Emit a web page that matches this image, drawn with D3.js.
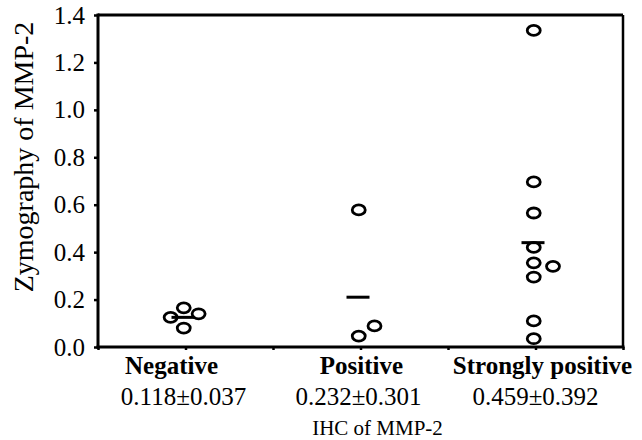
<!DOCTYPE html>
<html>
<head>
<meta charset="utf-8">
<script src="https://cdn.jsdelivr.net/npm/d3@7"></script>
<style>
  body { margin: 0; background: #fff; }
  text { font-family: "Liberation Serif", "Times New Roman", serif; fill: #000; }
</style>
</head>
<body>
<svg></svg>
<script>
let categories = ['Negative', 'Positive', 'Strongly positive']
let categoryPos = [1, 3, 5]
let statLabels = ['0.118\u00b10.037', '0.232\u00b10.301', '0.459\u00b10.392']

// points per group: value and small sideways shift (in category units)
let negativeValues = [0.165, 0.14, 0.125, 0.08]
let negativeShift = [-0.02, 0.15, -0.17, -0.02]
let positiveValues = [0.578, 0.089, 0.046]
let positiveShift = [-0.02, 0.16, -0.02]
let strongValues = [1.335, 0.696, 0.565, 0.42, 0.355, 0.34, 0.295, 0.11, 0.035]
let strongShift = [-0.02, -0.02, -0.02, -0.02, -0.02, 0.2, -0.02, -0.02, -0.02]

let meanLines = [0.125, 0.21, 0.44]
let yTicks = [0, 0.2, 0.4, 0.6, 0.8, 1.0, 1.2, 1.4]

let width = 642
let height = 440
let plotLeft = 98
let plotRight = 623
let plotTop = 15
let plotBottom = 347

let svg = d3.select('svg')
svg.attr('width', width).attr('height', height)

let xScale = d3.scaleLinear().domain([0, 6]).range([plotLeft, plotRight])
let yScale = d3.scaleLinear().domain([0, 1.4]).range([plotBottom, plotTop])

let points = []
let groups = [[negativeValues, negativeShift], [positiveValues, positiveShift], [strongValues, strongShift]]
groups.forEach((g, i) => {
    g[0].forEach((v, j) => {
        points.push({x: categoryPos[i] + g[1][j], y: v})
    })
})

// frame: top and right lines
svg.append('line')
   .attr('x1', plotLeft).attr('x2', plotRight)
   .attr('y1', plotTop).attr('y2', plotTop)
   .attr('stroke', '#000').attr('stroke-width', 3)
svg.append('line')
   .attr('x1', plotRight).attr('x2', plotRight)
   .attr('y1', plotTop).attr('y2', plotBottom)
   .attr('stroke', '#000').attr('stroke-width', 2.5)

let yAxis = d3.axisLeft(yScale)
              .tickValues(yTicks)
              .tickFormat(d3.format('.1f'))
              .tickSize(4)
              .tickPadding(9)
let yG = svg.append('g')
   .attr('transform', 'translate(' + plotLeft + ', 0)')
   .call(yAxis)
yG.attr('font-family', null).attr('font-size', null)
yG.select('.domain').attr('stroke-width', 3).attr('d', 'M0,' + (plotTop - 1.5) + 'V' + (plotBottom + 1.5))
yG.selectAll('.tick line').attr('stroke-width', 2.5)
yG.selectAll('.tick text')
  .style('font-size', '25px')

let xAxis = d3.axisBottom(xScale)
              .tickValues(d3.range(0, 7))
              .tickFormat('')
              .tickSize(3)
let xG = svg.append('g')
   .attr('transform', 'translate(0, ' + plotBottom + ')')
   .call(xAxis)
xG.select('.domain').attr('stroke-width', 3).attr('d', 'M' + (plotLeft - 1.5) + ',0H' + (plotRight + 1.5))
xG.selectAll('.tick line').attr('stroke-width', 2.5)

svg.selectAll('.mean')
   .data(meanLines)
   .enter()
   .append('line')
   .attr('class', 'mean')
   .attr('x1', (d, i) => xScale(categoryPos[i]) - 14)
   .attr('x2', (d, i) => xScale(categoryPos[i]) + 9)
   .attr('y1', (d) => yScale(d))
   .attr('y2', (d) => yScale(d))
   .attr('stroke', '#000')
   .attr('stroke-width', 3)

svg.selectAll('.dot')
   .data(points)
   .enter()
   .append('ellipse')
   .attr('class', 'dot')
   .attr('cx', (d) => xScale(d.x))
   .attr('cy', (d) => yScale(d.y))
   .attr('rx', 6.5)
   .attr('ry', 5)
   .attr('fill', 'none')
   .attr('stroke', '#000')
   .attr('stroke-width', 2.8)

svg.selectAll('.cat')
   .data(categories)
   .enter()
   .append('text')
   .attr('class', 'cat')
   .attr('x', (d, i) => xScale(categoryPos[i]) + [-14, 1, 7][i])
   .attr('y', 374)
   .attr('text-anchor', 'middle')
   .style('font-size', '25px')
   .style('font-weight', 'bold')
   .text((d) => d)

svg.selectAll('.stat')
   .data(statLabels)
   .enter()
   .append('text')
   .attr('class', 'stat')
   .attr('x', (d, i) => xScale(categoryPos[i]) + [-2, -2, 0][i])
   .attr('y', 405)
   .attr('text-anchor', 'middle')
   .style('font-size', '25px')
   .text((d) => d)

svg.append('text')
   .attr('x', xScale(3) + 17)
   .attr('y', 435)
   .attr('text-anchor', 'middle')
   .style('font-size', '21px')
   .text('IHC of MMP-2')

svg.append('text')
   .attr('transform', 'translate(33, 157) rotate(-90)')
   .attr('text-anchor', 'middle')
   .style('font-size', '28px')
   .text('Zymography of MMP-2')
</script>
</body>
</html>
